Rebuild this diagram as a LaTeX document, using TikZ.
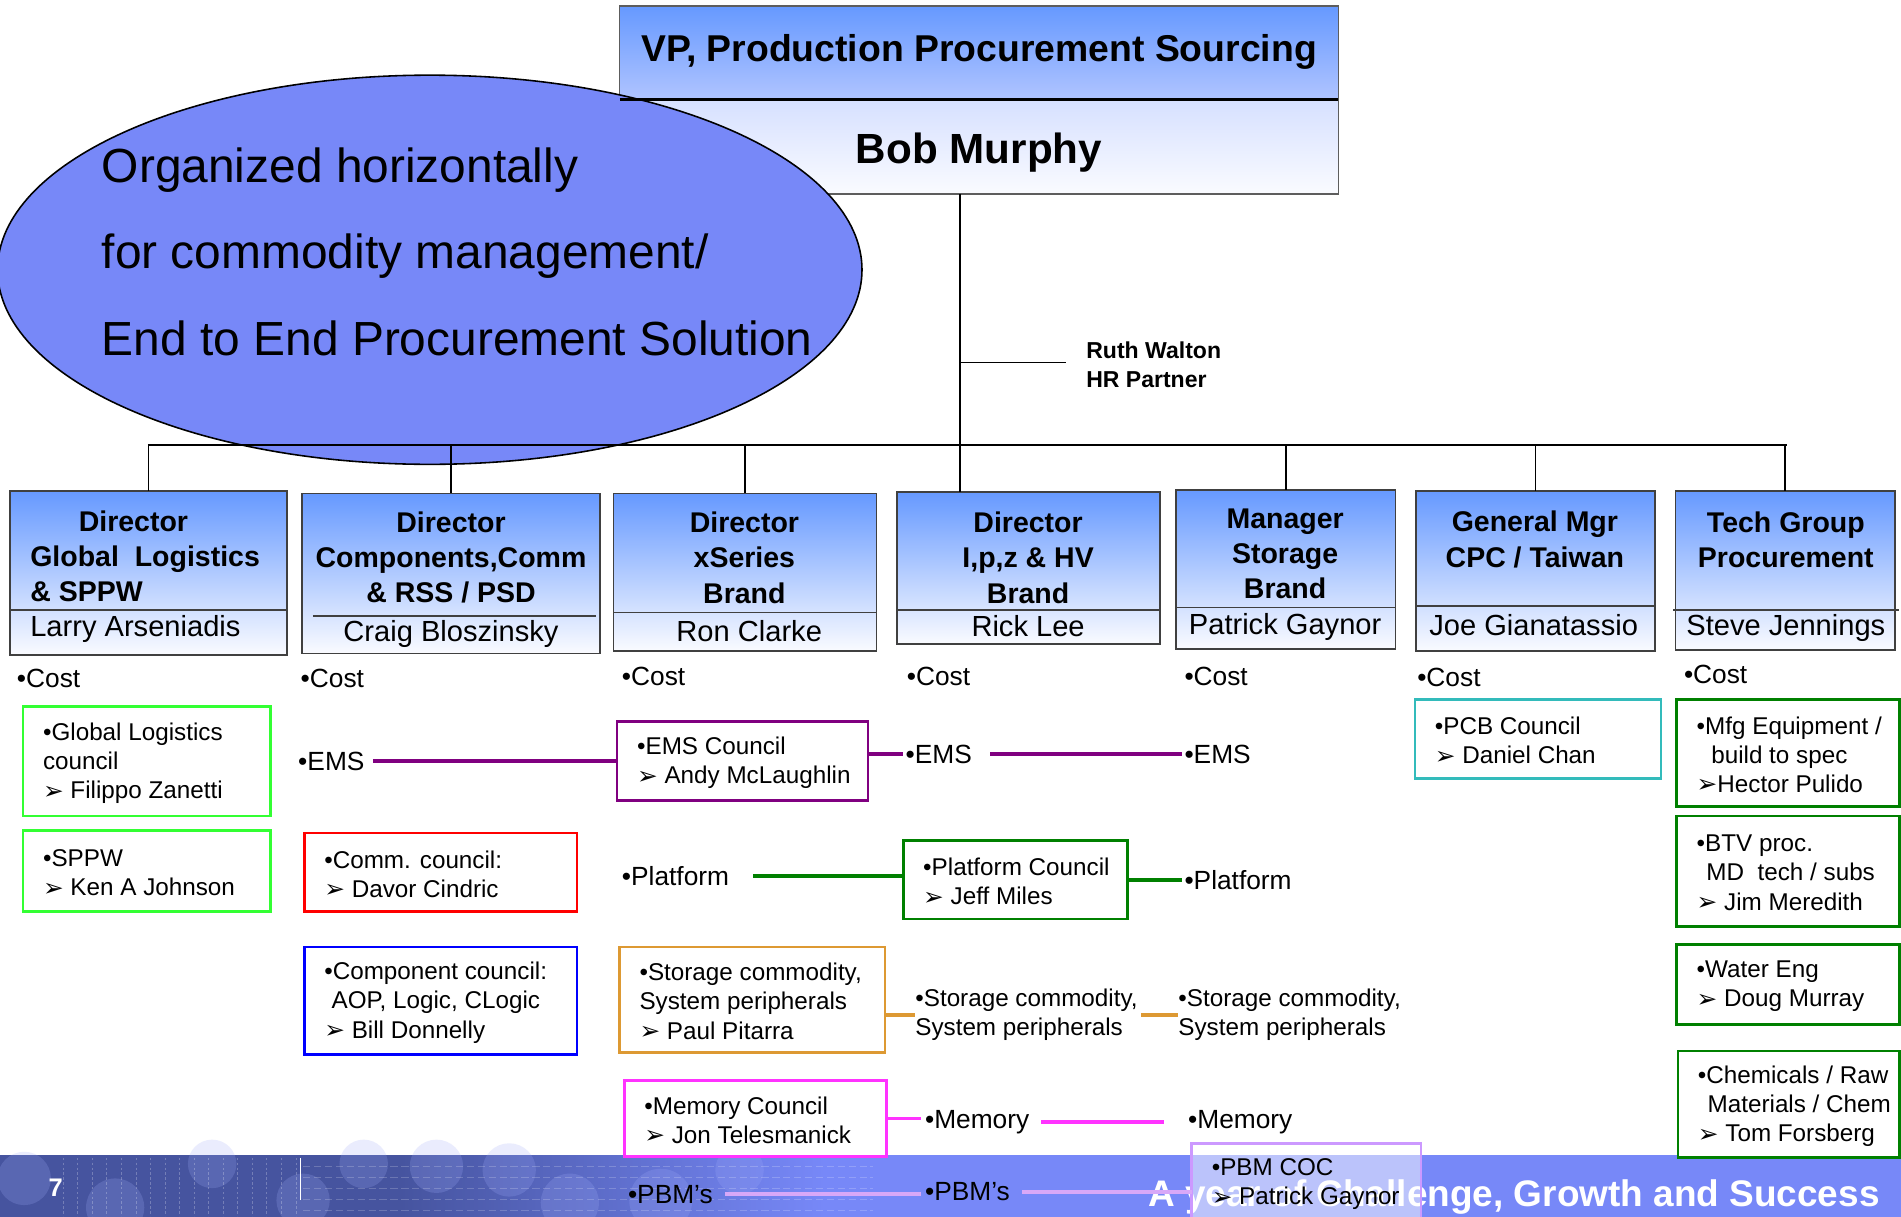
\documentclass[tikz,border=0pt]{standalone}
\usepackage{fontspec}
\setmainfont{Liberation Sans}
\newfontfamily\dvs{DejaVu Sans}
\usetikzlibrary{shapes.geometric}
\definecolor{topblue}{HTML}{6699FF}
\definecolor{vpmid}{HTML}{B0C4FF}
\definecolor{vplow}{HTML}{D6E0FF}
\definecolor{paleend}{HTML}{FAFBFF}
\definecolor{ovalblue}{HTML}{7788F8}
\definecolor{boxgray}{HTML}{404040}
\definecolor{lgreen}{HTML}{33FF33}
\definecolor{dgreen}{HTML}{008000}
\definecolor{cred}{HTML}{FF0000}
\definecolor{cblue}{HTML}{0000FF}
\definecolor{cpurple}{HTML}{800080}
\definecolor{corange}{HTML}{DD9933}
\definecolor{cmag}{HTML}{FF33FF}
\definecolor{cteal}{HTML}{33BBBB}
\definecolor{cviolet}{HTML}{CC99FF}
\definecolor{pbmline}{HTML}{D8A8F8}
\definecolor{footbase}{HTML}{7788F8}
\definecolor{footdark}{HTML}{46549F}
\newcommand\ptr{\raisebox{-0.5pt}{\scalebox{1.02}{\dvs ➢}}}
\newcommand\fsz[2]{\fontsize{#1}{#2}\selectfont}
% council box: name, colour, x1, y1, x2, y2, text
\newcommand\cbox[7]{%
  \node[cb, draw=#2, minimum width={#5-#3}, minimum height={#6-#4}] (#1) at ({(#3+#5)/2},{(#4+#6)/2}) {};
  \node[cbt, anchor=west] (#1-t) at ([xshift=16.5pt,yshift=-1.5pt]#1.west) {#7};}
\begin{document}
\begin{tikzpicture}[x=1pt,y=-1pt,
  every node/.style={inner sep=0pt, outer sep=0pt},
  org/.style={line width=1.4pt, draw=black},
  vpbox/.style={draw=boxgray!85, line width=1pt, minimum width=593pt},
  l2/.style={draw=boxgray, line width=1.5pt, top color=topblue, bottom color=paleend},
  dv/.style={draw=boxgray, line width=1.2pt},
  ttl/.style={font=\bfseries\fsz{23.5}{29}, align=center},
  nm/.style={font=\fsz{24}{28}, anchor=base},
  cb/.style={line width=2.2pt, fill=white},
  cbt/.style={font=\fsz{20}{24}, align=left},
  ft/.style={font=\fsz{21.7}{26}, anchor=base west},
  ft2/.style={font=\fsz{20}{24}, align=left, anchor=west},
  lnk/.style={line width=3pt},
  ovt/.style={font=\fsz{39.5}{46}, anchor=base west},
]
\useasboundingbox (0,0) rectangle (1568,1003);
\clip (0,0) rectangle (1568,1003);
\fill[white] (0,0) rectangle (1568,1003);

% ---------- footer band ----------
\fill[footbase] (0,953) rectangle (1568,1010);
\fill[footdark] (0,953) rectangle (330,1010);
\shade[left color=footdark, right color=footbase] (330,953) rectangle (680,1010);
\begin{scope}[fill opacity=0.22]
  \foreach \cx/\cy/\r in {20/972/22, 95/996/24, 175/960/20, 250/990/22, 300/960/20, 360/962/22, 420/965/22, 470/992/24, 545/990/26, 610/965/20}
    \fill[white!30!footbase] (\cx,\cy) circle (\r pt);
\end{scope}
\foreach \xx in {52,64,...,244}
  \draw[white, opacity=0.25, dash pattern=on 2pt off 2pt] (\xx,955) -- (\xx,1003);
\foreach \yy in {962,971,...,1002}
  \draw[white, opacity=0.2, dash pattern=on 6pt off 3pt] (250,\yy) -- (720,\yy);
\draw[white, line width=1pt] (248,955) -- (248,990);
\node[font=\bfseries\fsz{21}{24}, text=white] (pg) at (46,980) {7};
\node[font=\bfseries\fsz{30.5}{36}, text=white, anchor=base west] (slogan) at (947,995.5) {A year of Challenge, Growth and Success};

% ---------- VP box ----------
\node[vpbox, minimum height=77pt, top color=topblue, bottom color=vpmid] (vp) at (807.5,43.5) {};
\node[font=\bfseries\fsz{30.8}{36}, anchor=base] (vp-t) at (807.5,50.5) {VP, Production Procurement Sourcing};
\node[vpbox, minimum height=78pt, top color=vplow, bottom color=paleend] (bob) at (807.5,121) {};
\node[font=\bfseries\fsz{34.8}{40}, anchor=base] (bob-t) at (807.5,135) {Bob Murphy};

% ---------- oval ----------
\node[draw=black, line width=1.3pt, fill=ovalblue, ellipse, minimum width=713pt, minimum height=321pt] (oval) at (354.5,222.5) {};
\node[ovt] (o1) at (84,150.5) {Organized horizontally};
\node[ovt] (o2) at (84,221.5) {for commodity management/};
\node[ovt] (o3) at (84,293.5) {End to End Procurement Solution};
\draw[line width=3pt] (vp.south west) -- (vp.south east);

% ---------- hierarchy lines ----------
\coordinate (hub) at (792,367);
\coordinate (busL) at (122,367);
\coordinate (busR) at (1474,367);
\draw[org] (bob.south -| hub) -- (hub);
\draw[org] (busL) -- (busR);
\node[font=\bfseries\fsz{19}{24}, align=left, anchor=west] (ruth) at (896,301) {Ruth Walton\\HR Partner};
\draw[org] ([yshift=2pt]ruth.west -| hub) -- ([xshift=-17pt,yshift=2pt]ruth.west);

% ---------- level 2 boxes ----------
\node[l2, minimum width=229pt, minimum height=135pt] (d1) at (122.5,472.5) {};
\node[l2, minimum width=246pt, minimum height=132pt] (d2) at (372,473) {};
\node[l2, minimum width=217pt, minimum height=130pt] (d3) at (614.5,472) {};
\node[l2, minimum width=217pt, minimum height=125pt] (d4) at (848.5,468.5) {};
\node[l2, minimum width=181pt, minimum height=131pt] (d5) at (1060.5,469.5) {};
\node[l2, minimum width=197pt, minimum height=132pt] (d6) at (1266.5,471) {};
\node[l2, minimum width=181pt, minimum height=131pt] (d7) at (1472.5,470.5) {};
\draw[dv] (8,503) -- (237,503);
\draw[dv] (258,508) -- (492,508);
\draw[dv] (506,505) -- (723,505);
\draw[dv] (740,503) -- (957,503);
\draw[dv] (970,501) -- (1151,501);
\draw[dv] (1168,500) -- (1365,500);
\draw[dv] (1380,503) -- (1566,503);

\foreach \d in {d1,d2,d3,d5,d6,d7}
  \draw[org] (\d.north |- hub) -- (\d.north);
\draw[org] (hub) -- (hub |- d4.north);

\node[ttl, align=left, anchor=west] (d1-t) at (25,459) {\hspace*{40pt}Director\\Global\ \ Logistics\\\&\ SPPW};
\node[ttl] (d2-t) at (372,460) {Director\\Components,Comm\\\& RSS / PSD};
\node[ttl] (d3-t) at (614,460) {Director\\xSeries\\Brand};
\node[ttl] (d4-t) at (848,460) {Director\\I,p,z \& HV\\Brand};
\node[ttl] (d5-t) at (1060,457) {Manager\\Storage\\Brand};
\node[ttl] (d6-t) at (1266,445) {General Mgr\\CPC / Taiwan};
\node[ttl] (d7-t) at (1473,445) {Tech Group\\Procurement};

\node[nm, anchor=base west] (d1-n) at (25,525.2) {Larry Arseniadis};
\node[nm] (d2-n) at (372,529.2) {Craig Bloszinsky};
\node[nm] (d3-n) at (618,529.2) {Ron Clarke};
\node[nm] (d4-n) at (848,525.2) {Rick Lee};
\node[nm] (d5-n) at (1060,523.2) {Patrick Gaynor};
\node[nm] (d6-n) at (1265,524.2) {Joe Gianatassio};
\node[nm] (d7-n) at (1473,524.2) {Steve Jennings};

% ---------- cost ----------
\node[ft] (cost1) at (14,567.4) {•Cost};
\node[ft] (cost2) at (248,567.4) {•Cost};
\node[ft] (cost3) at (513,565.4) {•Cost};
\node[ft] (cost4) at (748,565.4) {•Cost};
\node[ft] (cost5) at (977,565.4) {•Cost};
\node[ft] (cost6) at (1169,566.4) {•Cost};
\node[ft] (cost7) at (1389,563.4) {•Cost};

% ---------- council boxes ----------
\cbox{gl}{lgreen}{19}{583}{223}{673}{•Global Logistics\\council\\\ptr\ Filippo Zanetti}
\cbox{sppw}{lgreen}{19}{685}{223}{752}{•SPPW\\\ptr\ Ken A Johnson}
\cbox{comm}{cred}{251}{687}{476}{752}{•Comm. council:\\\ptr\ Davor Cindric}
\cbox{comp}{cblue}{251}{781}{476}{870}{•Component council:\\\hspace*{6pt}AOP, Logic, CLogic\\\ptr\ Bill Donnelly}
\cbox{emsc}{cpurple}{509}{595}{716}{660}{•EMS Council\\\ptr\ Andy McLaughlin}
\cbox{stor}{corange}{511}{781}{730}{868}{•Storage commodity,\\System peripherals\\\ptr\ Paul Pitarra}
\cbox{memc}{cmag}{515}{891}{731}{954}{•Memory Council\\\ptr\ Jon Telesmanick}
\cbox{platc}{dgreen}{745}{693}{930}{758}{•Platform Council\\\ptr\ Jeff Miles}
\cbox{pcb}{cteal}{1167}{577}{1370}{642}{•PCB Council\\\ptr\ Daniel Chan}
\cbox{mfg}{dgreen}{1383}{577}{1567}{665}{•Mfg Equipment /\\\hspace*{12pt}build to spec\\\ptr{}Hector Pulido}
\cbox{btv}{dgreen}{1383}{673}{1567}{764}{•BTV proc.\\\hspace*{8pt}MD\ \ tech / subs\\\ptr\ Jim Meredith}
\cbox{water}{dgreen}{1383}{779}{1567}{845}{•Water Eng\\\ptr\ Doug Murray}
\cbox{chem}{dgreen}{1384}{867}{1567}{955}{•Chemicals / Raw\\\hspace*{8pt}Materials / Chem\\\ptr\ Tom Forsberg}

% ---------- free items ----------
\node[ft] (ems2) at (246,635.4) {•EMS};
\node[ft] (ems4) at (747,629.4) {•EMS};
\node[ft] (ems5) at (977,629.4) {•EMS};
\node[ft] (plat3) at (513,730.4) {•Platform};
\node[ft] (plat5) at (977,733.4) {•Platform};
\node[ft2] (stor4) at (755,837) {•Storage commodity,\\System peripherals};
\node[ft2] (stor5) at (972,837) {•Storage commodity,\\System peripherals};
\node[ft] (mem4) at (763,930.4) {•Memory};
\node[ft] (mem5) at (980,930.4) {•Memory};
\node[ft] (pbm3) at (518,992.4) {•PBM’s};
\node[ft] (pbm4) at (763,990.4) {•PBM’s};

% PBM COC box (semi-transparent over footer)
\node[line width=2.2pt, draw=cviolet, fill=white, fill opacity=0.5, minimum width=189pt, minimum height=70pt] (pbmcoc) at (1077.5,978) {};
\node[cbt, anchor=west] (pbmcoc-t) at ([xshift=16.5pt,yshift=1pt]pbmcoc.west) {•PBM COC\\\ptr\ Patrick Gaynor};

% ---------- commodity links ----------
\draw[lnk, cpurple, shorten <=7pt] (ems2.east) -- (ems2.east -| emsc.west);
\draw[lnk, cpurple, shorten >=2pt] (ems4.west -| emsc.east) -- (ems4.west);
\draw[lnk, cpurple, shorten <=15pt, shorten >=2pt] (ems4.east) -- (ems4.east -| ems5.west);
\draw[lnk, dgreen, shorten <=20pt] (plat3.east) -- (plat3.east -| platc.west);
\draw[lnk, dgreen, shorten >=2pt] (plat5.west -| platc.east) -- (plat5.west);
\draw[lnk, corange] (stor4.west -| stor.east) -- (stor4.west);
\draw[lnk, corange, shorten <=3pt] (stor4.east) -- (stor4.east -| stor5.west);
\draw[lnk, cmag, shorten >=3pt] (memc.east) -- (memc.east -| mem4.west);
\draw[lnk, cmag, shorten <=10pt, shorten >=20pt] (mem4.east) -- (mem4.east -| mem5.west);
\draw[lnk, pbmline, shorten <=10pt, shorten >=3pt] (pbm3.east) -- (pbm3.east -| pbm4.west);
\draw[lnk, pbmline, shorten <=10pt] (pbm4.east) -- (pbm4.east -| pbmcoc.west);
\end{tikzpicture}
\end{document}
